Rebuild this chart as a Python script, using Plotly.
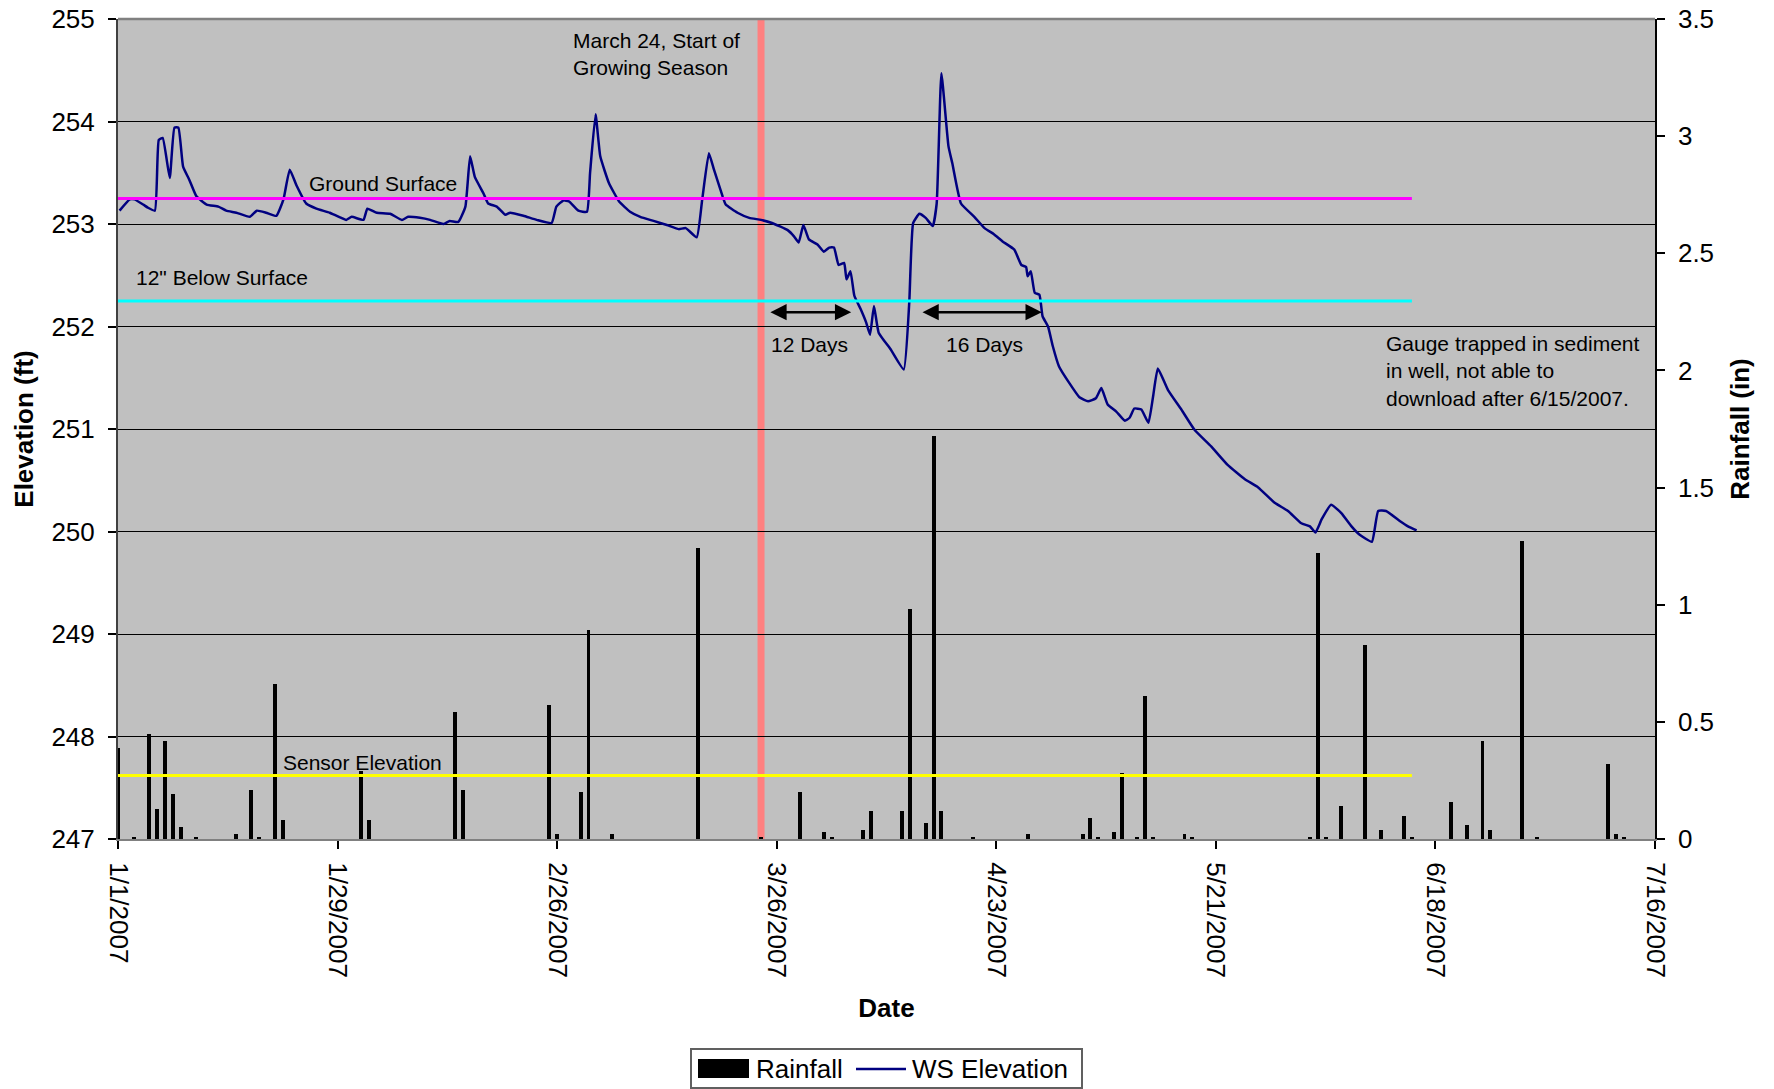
import pandas as pd
import plotly.graph_objects as go

START = "2007-01-01"
END = "2007-07-16"

# WS elevation readings: days since 2007-01-01 and elevation (ft)
ws_day = [0.2, 1.5, 2.1, 3.2, 3.8, 4.7, 5.2, 5.7, 6.6, 7.2, 7.7, 8.3, 9.1, 10.0, 11.3, 12.8, 13.8,
          15.1, 16.8, 17.7, 18.9, 20.2, 21.1, 21.9, 22.8, 24.0, 25.3, 27.0, 29.1, 29.8, 31.3, 31.8,
          33.0, 34.7, 36.2, 37.0, 38.5, 39.8, 41.5, 42.3, 43.4, 44.3, 44.9, 45.5, 46.6, 47.2, 48.3,
          49.4, 50.0, 51.7, 53.4, 55.3, 55.9, 56.8, 57.5, 58.7, 59.8, 60.2, 60.9, 61.5, 62.6, 63.9,
          65.3, 66.6, 68.3, 70.0, 71.5, 72.4, 73.8, 74.5, 75.35, 76.0, 77.1, 77.5, 79.0, 80.5, 82.0,
          83.4, 85.4, 86.2, 86.8, 87.4, 88.1, 89.2, 90.0, 90.7, 91.3, 91.9, 92.6, 92.9, 93.4, 93.9,
          94.7, 95.4, 95.9, 96.4, 97.0, 98.5, 100.2, 100.9, 101.4, 102.2, 103.0, 103.9, 104.4, 105.0,
          105.9, 106.4, 107.5, 109.2, 110.5, 111.7, 112.8, 114.3, 115.2, 115.8, 116.0, 116.4, 116.9,
          117.5, 117.9, 118.6, 119.2, 120.0, 121.3, 122.6, 123.7, 124.7, 125.4, 126.2, 127.3, 128.4,
          129.0, 129.6, 130.5, 131.4, 132.0, 132.6, 133.9, 135.6, 137.3, 139.4, 141.5, 143.7, 145.4,
          147.5, 149.2, 150.9, 152.0, 152.7, 153.5, 154.7, 156.0, 157.3, 158.3, 159.9, 160.7, 161.7,
          163.5, 164.5, 165.6]
ws_elev = [253.13, 253.24, 253.24, 253.19, 253.16, 253.13, 253.82, 253.84, 253.45, 253.94, 253.94,
           253.56, 253.43, 253.27, 253.19, 253.17, 253.13, 253.11, 253.07, 253.13, 253.11, 253.08,
           253.24, 253.53, 253.37, 253.20, 253.15, 253.11, 253.04, 253.07, 253.04, 253.15, 253.11,
           253.10, 253.04, 253.07, 253.06, 253.04, 253.00, 253.03, 253.02, 253.17, 253.66, 253.46,
           253.30, 253.20, 253.17, 253.09, 253.11, 253.08, 253.04, 253.01, 253.17, 253.23, 253.22,
           253.13, 253.12, 253.50, 254.07, 253.66, 253.40, 253.22, 253.12, 253.07, 253.03, 252.99,
           252.95, 252.96, 252.87, 253.24, 253.69, 253.53, 253.27, 253.19, 253.11, 253.06, 253.04,
           253.01, 252.94, 252.88, 252.82, 252.99, 252.85, 252.80, 252.73, 252.77, 252.77, 252.60,
           252.62, 252.46, 252.54, 252.30, 252.17, 252.04, 251.92, 252.20, 251.94, 251.78, 251.58,
           252.23, 253.01, 253.10, 253.06, 252.98, 253.20, 254.47, 253.76, 253.59, 253.20, 253.07,
           252.96, 252.90, 252.83, 252.75, 252.60, 252.58, 252.49, 252.54, 252.33, 252.31, 252.10,
           252.00, 251.81, 251.61, 251.45, 251.31, 251.27, 251.30, 251.40, 251.24, 251.17, 251.08,
           251.11, 251.20, 251.19, 251.06, 251.32, 251.59, 251.38, 251.19, 250.99, 250.83, 250.65,
           250.51, 250.43, 250.28, 250.20, 250.08, 250.05, 249.99, 250.12, 250.26, 250.18, 250.05,
           249.97, 249.90, 250.20, 250.20, 250.10, 250.05, 250.01]

# Daily rainfall (in)
rain_dates = ["2007-01-01", "2007-01-03", "2007-01-05", "2007-01-06", "2007-01-07", "2007-01-08",
              "2007-01-09", "2007-01-11", "2007-01-16", "2007-01-18", "2007-01-19", "2007-01-21",
              "2007-01-22", "2007-02-01", "2007-02-02", "2007-02-13", "2007-02-14", "2007-02-25",
              "2007-02-26", "2007-03-01", "2007-03-02", "2007-03-05", "2007-03-16", "2007-03-24",
              "2007-03-29", "2007-04-01", "2007-04-02", "2007-04-06", "2007-04-07", "2007-04-11",
              "2007-04-12", "2007-04-14", "2007-04-15", "2007-04-16", "2007-04-20", "2007-04-27",
              "2007-05-04", "2007-05-05", "2007-05-06", "2007-05-08", "2007-05-09", "2007-05-11",
              "2007-05-12", "2007-05-13", "2007-05-17", "2007-05-18", "2007-06-02", "2007-06-03",
              "2007-06-04", "2007-06-06", "2007-06-09", "2007-06-11", "2007-06-14", "2007-06-15",
              "2007-06-20", "2007-06-22", "2007-06-24", "2007-06-25", "2007-06-29", "2007-07-01",
              "2007-07-10", "2007-07-11", "2007-07-12"]
rain_in = [0.39, 0.01, 0.45, 0.13, 0.42, 0.19, 0.05, 0.01, 0.02, 0.21, 0.01, 0.66, 0.08, 0.29,
           0.08, 0.54, 0.21, 0.57, 0.02, 0.20, 0.89, 0.02, 1.24, 0.01, 0.20, 0.03, 0.01, 0.04,
           0.12, 0.12, 0.98, 0.07, 1.72, 0.12, 0.01, 0.02, 0.02, 0.09, 0.01, 0.03, 0.28, 0.01,
           0.61, 0.01, 0.02, 0.01, 0.01, 1.22, 0.01, 0.14, 0.83, 0.04, 0.10, 0.01, 0.16, 0.06,
           0.42, 0.04, 1.27, 0.01, 0.32, 0.02, 0.01]

# Reference elevations (ft)
ref_names = ["Ground Surface", "12\" Below Surface", "Sensor Elevation"]
ref_elev = [253.25, 252.25, 247.62]
ref_colors = ["#FF00FF", "#00FFFF", "#FFFF00"]
ref_span = ["2007-01-01", "2007-06-15"]
season_start = "2007-03-24"

elev_ticks = [247, 248, 249, 250, 251, 252, 253, 254, 255]
rain_ticks = [0, 0.5, 1, 1.5, 2, 2.5, 3, 3.5]

FONT = "Liberation Sans, Arial, sans-serif"
t0 = pd.Timestamp(START)
ws_x = [t0 + pd.to_timedelta(d, unit="D") for d in ws_day]


def dday(d):
    return (t0 + pd.to_timedelta(d, unit="D")).strftime("%Y-%m-%d %H:%M")


# plot-area pixel frame
PL, PR, PT, PB = 118, 1655, 19, 839


def px(x):
    return (x - PL) / (PR - PL)


def py(y):
    return (PB - y) / (PB - PT)


fig = go.Figure()
fig.add_trace(go.Bar(x=rain_dates, y=rain_in, name="Rainfall", yaxis="y",
                     marker=dict(color="black", line=dict(width=0)),
                     width=0.5 * 86400000, showlegend=False))
fig.add_trace(go.Scatter(x=ws_x, y=ws_elev, name="WS Elevation", yaxis="y2", mode="lines",
                         line=dict(color="#000080", width=2.5, shape="spline", smoothing=0.4),
                         showlegend=False))
for n, v, c in zip(ref_names, ref_elev, ref_colors):
    fig.add_trace(go.Scatter(x=ref_span, y=[v, v], name=n, yaxis="y2", mode="lines",
                             line=dict(color=c, width=3), showlegend=False))

shapes = [
    dict(type="line", xref="x", yref="paper", x0=season_start, x1=season_start, y0=0, y1=1,
         line=dict(color="#FF8080", width=7), layer="between"),
    dict(type="line", xref="paper", yref="paper", x0=0, x1=1, y0=1, y1=1,
         line=dict(color="#808080", width=2.5)),
    # legend box
    dict(type="rect", xref="paper", yref="paper", x0=px(691), x1=px(1082), y0=py(1088), y1=py(1049),
         line=dict(color="#606060", width=2), fillcolor="white"),
    dict(type="rect", xref="paper", yref="paper", x0=px(698), x1=px(749), y0=py(1078), y1=py(1059),
         line=dict(width=0), fillcolor="black"),
    dict(type="line", xref="paper", yref="paper", x0=px(856), x1=px(906), y0=py(1069), y1=py(1069),
         line=dict(color="#000080", width=2.5)),
]

tf = dict(family=FONT, size=21, color="black")
annotations = [
    dict(x=px(571), y=py(54), text="March 24, Start of<br>Growing Season"),
    dict(x=px(307), y=py(184), text="Ground Surface"),
    dict(x=px(134), y=py(278), text="12\" Below Surface"),
    dict(x=px(281), y=py(762), text="Sensor Elevation"),
    dict(x=px(769), y=py(344), text="12 Days"),
    dict(x=px(944), y=py(344), text="16 Days"),
    dict(x=px(1384), y=py(371), text="Gauge trapped in sediment<br>in well, not able to<br>download after 6/15/2007."),
    dict(x=px(754), y=py(1069), text="Rainfall", font=dict(family=FONT, size=26, color="black")),
    dict(x=px(910), y=py(1069), text="WS Elevation", font=dict(family=FONT, size=26, color="black")),
]
for a in annotations:
    a.update(xref="paper", yref="paper", xanchor="left", yanchor="middle", showarrow=False,
             align="left")
    a.setdefault("font", tf)

arrow_y = 252.14
for s, e in [(83.0, 93.5), (102.4, 117.8)]:
    annotations.append(dict(xref="x", yref="y2", axref="x", ayref="y2", x=dday(e), y=arrow_y,
                            ax=dday(s), ay=arrow_y, text="", showarrow=True, arrowside="end+start",
                            arrowhead=2, arrowsize=1.3, arrowwidth=2.5, arrowcolor="black"))

fig.update_layout(
    width=1774, height=1089,
    margin=dict(l=PL, r=1774 - PR, t=PT, b=1089 - PB, pad=0, autoexpand=False),
    paper_bgcolor="white", plot_bgcolor="#C0C0C0",
    font=dict(family=FONT, size=26, color="black"),
    showlegend=False, bargap=0,
    shapes=shapes, annotations=annotations,
    xaxis=dict(type="date", range=[START, END], tick0=START, dtick=28 * 86400000,
               tickformat="%-m/%-d/%Y", tickangle=90, ticks="outside", ticklen=8,
               tickcolor="black", tickwidth=1.5, showline=True, linecolor="#808080", linewidth=2,
               showgrid=False, zeroline=False, tickfont=dict(size=26), ticklabelstandoff=8,
               automargin=False,
               title=dict(text="<b>Date</b>", font=dict(size=26), standoff=22)),
    yaxis=dict(side="right", range=[0, 3.5], tickvals=rain_ticks,
               ticktext=[f"{v:g}" for v in rain_ticks], ticks="outside", ticklen=8,
               tickcolor="black", tickwidth=1.5, showline=True, linecolor="black", linewidth=1.5,
               showgrid=False, zeroline=False, tickfont=dict(size=26), ticklabelstandoff=8,
               automargin=False,
               title=dict(text="<b>Rainfall (in)</b>", font=dict(size=26), standoff=18)),
    yaxis2=dict(side="left", overlaying="y", range=[247, 255], tickvals=elev_ticks,
                ticks="outside", ticklen=8, tickcolor="black", tickwidth=1.5, showline=True,
                linecolor="#404040", linewidth=2, showgrid=True, gridcolor="black", gridwidth=1,
                zeroline=False, tickfont=dict(size=26), ticklabelstandoff=8, automargin=False,
                title=dict(text="<b>Elevation (ft)</b>", font=dict(size=26), standoff=10)),
)

fig.write_html("out.html", config={"displayModeBar": False},
               post_script="document.body.style.margin='0';")
